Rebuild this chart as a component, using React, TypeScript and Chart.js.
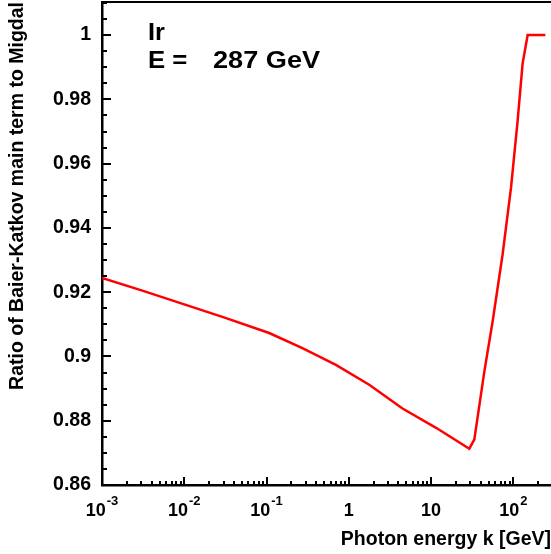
import { useEffect, useRef } from 'react';
import { Chart, registerables } from 'chart.js';

Chart.register(...registerables);

// ---- data ----
const photonEnergy = [0.001, 0.00316, 0.01, 0.0316, 0.1077, 0.273, 0.697, 1.77, 4.5, 11.5, 29.2, 33.6, 44.4, 56.0, 74.1, 93.8, 112.8, 129.7, 149.3, 245];
const ratioBK = [0.9244, 0.9204, 0.9162, 0.9120, 0.9073, 0.9026, 0.8974, 0.8912, 0.8838, 0.8778, 0.8713, 0.8742, 0.8953, 0.9109, 0.9318, 0.9526, 0.9734, 0.9912, 1.0, 1.0];

const xMajorTicks = [0.001, 0.01, 0.1, 1, 10, 100];
const xTickBase = ['10', '10', '10', '1', '10', '10'];
const xTickExp = ['-3', '-2', '-1', '', '', '2'];
const yTickValues = [0.86, 0.88, 0.9, 0.92, 0.94, 0.96, 0.98, 1];
const yTickLabels = ['0.86', '0.88', '0.9', '0.92', '0.94', '0.96', '0.98', '1'];

const materialLabel = 'Ir';
const energyLabelLeft = 'E =';
const energyLabelRight = '287 GeV';
const xTitle = 'Photon energy k [GeV]';
const yTitle = 'Ratio of Baier-Katkov main term to Migdal';

const X_MIN = 0.001;
const X_MAX = 287;
const Y_MIN = 0.86;
const Y_MAX = 1.0103;

const FONT = '"Liberation Sans", Arial, Helvetica, sans-serif';

function stretchedText(ctx: CanvasRenderingContext2D, text: string, x: number, y: number, sx: number) {
  ctx.save();
  ctx.translate(x, y);
  ctx.scale(sx, 1);
  ctx.fillText(text, 0, 0);
  ctx.restore();
}

const framePlugin = {
  id: 'rootFrame',
  afterDraw(chart: any) {
    const { ctx, chartArea, scales } = chart;
    const xs = scales.x;
    const ys = scales.y;
    ctx.save();
    ctx.strokeStyle = '#000';
    ctx.lineWidth = 2;
    // top frame
    ctx.beginPath();
    ctx.moveTo(chartArea.left - 1, chartArea.top);
    ctx.lineTo(chartArea.right, chartArea.top);
    ctx.stroke();
    // y ticks (inward)
    for (let i = 0; i <= 30; i++) {
      const v = Y_MIN + i * 0.005;
      if (v > Y_MAX + 1e-9) break;
      const py = Math.round(ys.getPixelForValue(v));
      const major = i % 4 === 0;
      const len = major ? 9 : 5;
      ctx.beginPath();
      ctx.moveTo(chartArea.left, py);
      ctx.lineTo(chartArea.left + len, py);
      ctx.stroke();
    }
    // x ticks (inward)
    for (let d = -3; d <= 2; d++) {
      for (let m = 1; m <= 9; m++) {
        const v = m * Math.pow(10, d);
        if (v > X_MAX) break;
        const px = Math.round(xs.getPixelForValue(v));
        const len = m === 1 ? 8 : 4;
        ctx.beginPath();
        ctx.moveTo(px, chartArea.bottom);
        ctx.lineTo(px, chartArea.bottom - len);
        ctx.stroke();
      }
    }
    // x tick labels with superscripts
    ctx.fillStyle = '#000';
    ctx.textBaseline = 'alphabetic';
    ctx.textAlign = 'left';
    const baseFont = `bold 18px ${FONT}`;
    const expFont = `bold 13px ${FONT}`;
    xMajorTicks.forEach((v, i) => {
      const px = xs.getPixelForValue(v);
      ctx.font = baseFont;
      const wb = ctx.measureText(xTickBase[i]).width;
      ctx.font = expFont;
      const we = xTickExp[i] ? ctx.measureText(xTickExp[i]).width + 1 : 0;
      const start = px - (wb + we) / 2;
      const baseY = chartArea.bottom + 31;
      ctx.font = baseFont;
      ctx.fillText(xTickBase[i], start, baseY);
      if (xTickExp[i]) {
        ctx.font = expFont;
        ctx.fillText(xTickExp[i], start + wb + 1, baseY - 11);
      }
    });
    // annotation
    ctx.font = `bold 23px ${FONT}`;
    stretchedText(ctx, materialLabel, 148, 40, 1.1);
    stretchedText(ctx, energyLabelLeft, 148, 68, 1.12);
    stretchedText(ctx, energyLabelRight, 213, 68, 1.18);
    ctx.restore();
  },
};

export default function App() {
  const canvasRef = useRef<HTMLCanvasElement | null>(null);

  useEffect(() => {
    document.body.style.margin = '0';
    const canvas = canvasRef.current;
    if (!canvas) return;
    const chart = new Chart(canvas, {
      type: 'line',
      data: {
        datasets: [
          {
            data: photonEnergy.map((k, i) => ({ x: k, y: ratioBK[i] })),
            borderColor: '#ff0000',
            borderWidth: 2.5,
            pointRadius: 0,
            fill: false,
            tension: 0,
          },
        ],
      },
      options: {
        animation: false,
        responsive: false,
        maintainAspectRatio: false,
        layout: { padding: { top: 2, right: 0, left: 0, bottom: 0 } },
        plugins: { legend: { display: false }, tooltip: { enabled: false } },
        scales: {
          x: {
            type: 'logarithmic',
            min: X_MIN,
            max: X_MAX,
            grid: { display: false, drawTicks: false },
            border: { display: true, color: '#000', width: 2.5 },
            ticks: { display: false },
            title: {
              display: true,
              text: xTitle,
              align: 'end',
              color: '#000',
              font: { family: FONT, size: 19.5, weight: 'bold' },
              padding: { top: 0, bottom: 3 },
            },
            afterFit: (scale: any) => {
              scale.height = 69;
              scale.paddingLeft = 0;
              scale.paddingRight = 0;
            },
          },
          y: {
            type: 'linear',
            min: Y_MIN,
            max: Y_MAX,
            grid: { display: false, drawTicks: false },
            border: { display: true, color: '#000', width: 2.5 },
            ticks: {
              includeBounds: false,
              stepSize: 0.02,
              color: '#000',
              padding: 11,
              font: { family: FONT, size: 19.5, weight: 'bold' },
              callback: (value: any) => {
                const idx = yTickValues.findIndex((t) => Math.abs(t - Number(value)) < 1e-6);
                return idx >= 0 ? yTickLabels[idx] : '';
              },
            },
            title: {
              display: true,
              text: yTitle,
              align: 'end',
              color: '#000',
              font: { family: FONT, size: 19.5, weight: 'bold' },
              padding: { top: 6, bottom: 0 },
            },
            afterFit: (scale: any) => {
              scale.width = 102;
              scale.paddingTop = 0;
              scale.paddingBottom = 0;
            },
          },
        },
      },
      plugins: [framePlugin],
    });
    return () => chart.destroy();
  }, []);

  return (
    <div style={{ width: 551, height: 554 }}>
      <canvas ref={canvasRef} width={551} height={554} style={{ display: 'block' }} />
    </div>
  );
}
